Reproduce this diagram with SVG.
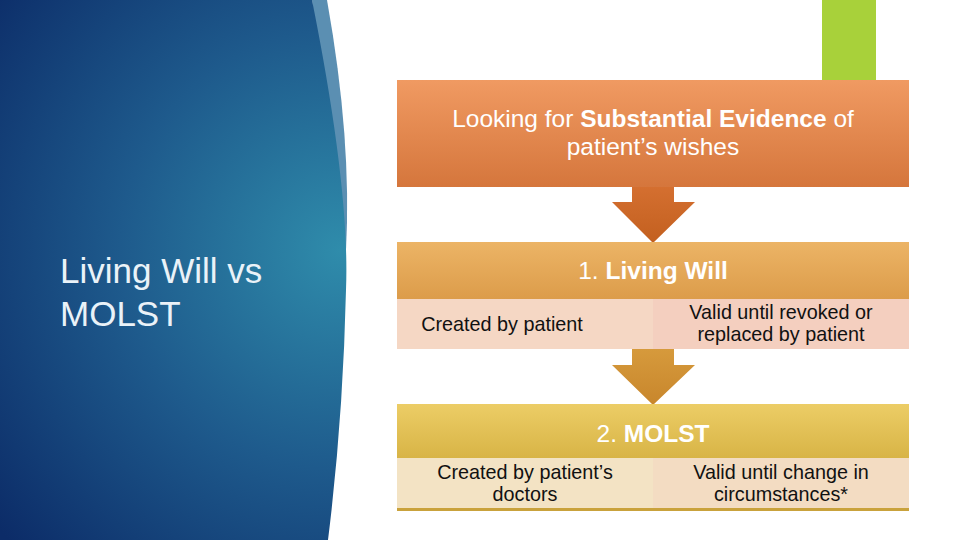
<svg xmlns="http://www.w3.org/2000/svg" width="960" height="540" viewBox="0 0 960 540">
<defs>
<radialGradient id="bg" cx="340" cy="250" r="440" gradientUnits="userSpaceOnUse">
<stop offset="0" stop-color="#2f8cab"/>
<stop offset="0.5" stop-color="#1e5a8c"/>
<stop offset="1" stop-color="#0c2c68"/>
</radialGradient>
<linearGradient id="g1" x1="0" y1="0" x2="0" y2="1">
<stop offset="0" stop-color="#f09a62"/>
<stop offset="1" stop-color="#d5763c"/>
</linearGradient>
<linearGradient id="a1" x1="0" y1="0" x2="0" y2="1">
<stop offset="0" stop-color="#d46f30"/>
<stop offset="1" stop-color="#c3601f"/>
</linearGradient>
<linearGradient id="g2" x1="0" y1="0" x2="0" y2="1">
<stop offset="0" stop-color="#ecb466"/>
<stop offset="1" stop-color="#dc9c4a"/>
</linearGradient>
<linearGradient id="a2" x1="0" y1="0" x2="0" y2="1">
<stop offset="0" stop-color="#d69a3c"/>
<stop offset="1" stop-color="#c8862c"/>
</linearGradient>
<linearGradient id="g3" x1="0" y1="0" x2="0" y2="1">
<stop offset="0" stop-color="#eccd66"/>
<stop offset="1" stop-color="#d8b446"/>
</linearGradient>
<style>
.w{fill:#ffffff;font-family:"Liberation Sans",Arial,sans-serif;text-anchor:middle}
.k{fill:#111111;font-family:"Liberation Sans",Arial,sans-serif;font-size:19.8px;text-anchor:middle}
</style>
</defs>
<rect width="960" height="540" fill="#ffffff"/>
<path d="M312,0 L327,0 Q352,140 346,250 L340,250 Z" fill="#5b8fb2"/>
<path d="M0,0 L312,0 Q350,190 346,290 Q343,420 328,540 L0,540 Z" fill="url(#bg)"/>
<rect x="822" y="0" width="54" height="80" fill="#a8d13a"/>
<text x="60" y="283" font-family="'Liberation Sans',Arial,sans-serif" font-size="35" fill="#eaf2f8">Living Will vs</text>
<text x="60" y="326" font-family="'Liberation Sans',Arial,sans-serif" font-size="35" fill="#eaf2f8">MOLST</text>
<g id="top">
<rect x="397" y="80" width="512" height="107" fill="url(#g1)"/>
<text class="w" x="653" y="127" font-size="24.5">Looking for <tspan font-weight="bold">Substantial Evidence</tspan> of</text>
<text class="w" x="653" y="155" font-size="24.5">patient’s wishes</text>
</g>
<g id="connectors">
<path d="M632,187 L674,187 L674,202 L695,202 L653,243 L612,202 L632,202 Z" fill="url(#a1)"/>
<path d="M632,349 L674,349 L674,365 L695,365 L653,405 L612,365 L632,365 Z" fill="url(#a2)"/>
</g>
<g id="livingwill">
<rect x="397" y="242" width="512" height="57" fill="url(#g2)"/>
<text class="w" x="653" y="279" font-size="24.5">1. <tspan font-weight="bold">Living Will</tspan></text>
<rect x="397" y="299" width="256" height="50" fill="#f5d7c4"/>
<rect x="653" y="299" width="256" height="50" fill="#f4cfbf"/>
<text class="k" x="502" y="331">Created by patient</text>
<text class="k" x="781" y="319">Valid until revoked or</text>
<text class="k" x="781" y="341">replaced by patient</text>
</g>
<g id="molst">
<rect x="397" y="404" width="512" height="54" fill="url(#g3)"/>
<text class="w" x="653" y="442" font-size="24.5">2. <tspan font-weight="bold">MOLST</tspan></text>
<rect x="397" y="458" width="256" height="51" fill="#f3e3c4"/>
<rect x="653" y="458" width="256" height="51" fill="#f3dcc2"/>
<rect x="397" y="508" width="512" height="3" fill="#c9a23c"/>
<text class="k" x="525" y="479">Created by patient’s</text>
<text class="k" x="525" y="501">doctors</text>
<text class="k" x="781" y="479">Valid until change in</text>
<text class="k" x="781" y="501">circumstances*</text>
</g>
</svg>
